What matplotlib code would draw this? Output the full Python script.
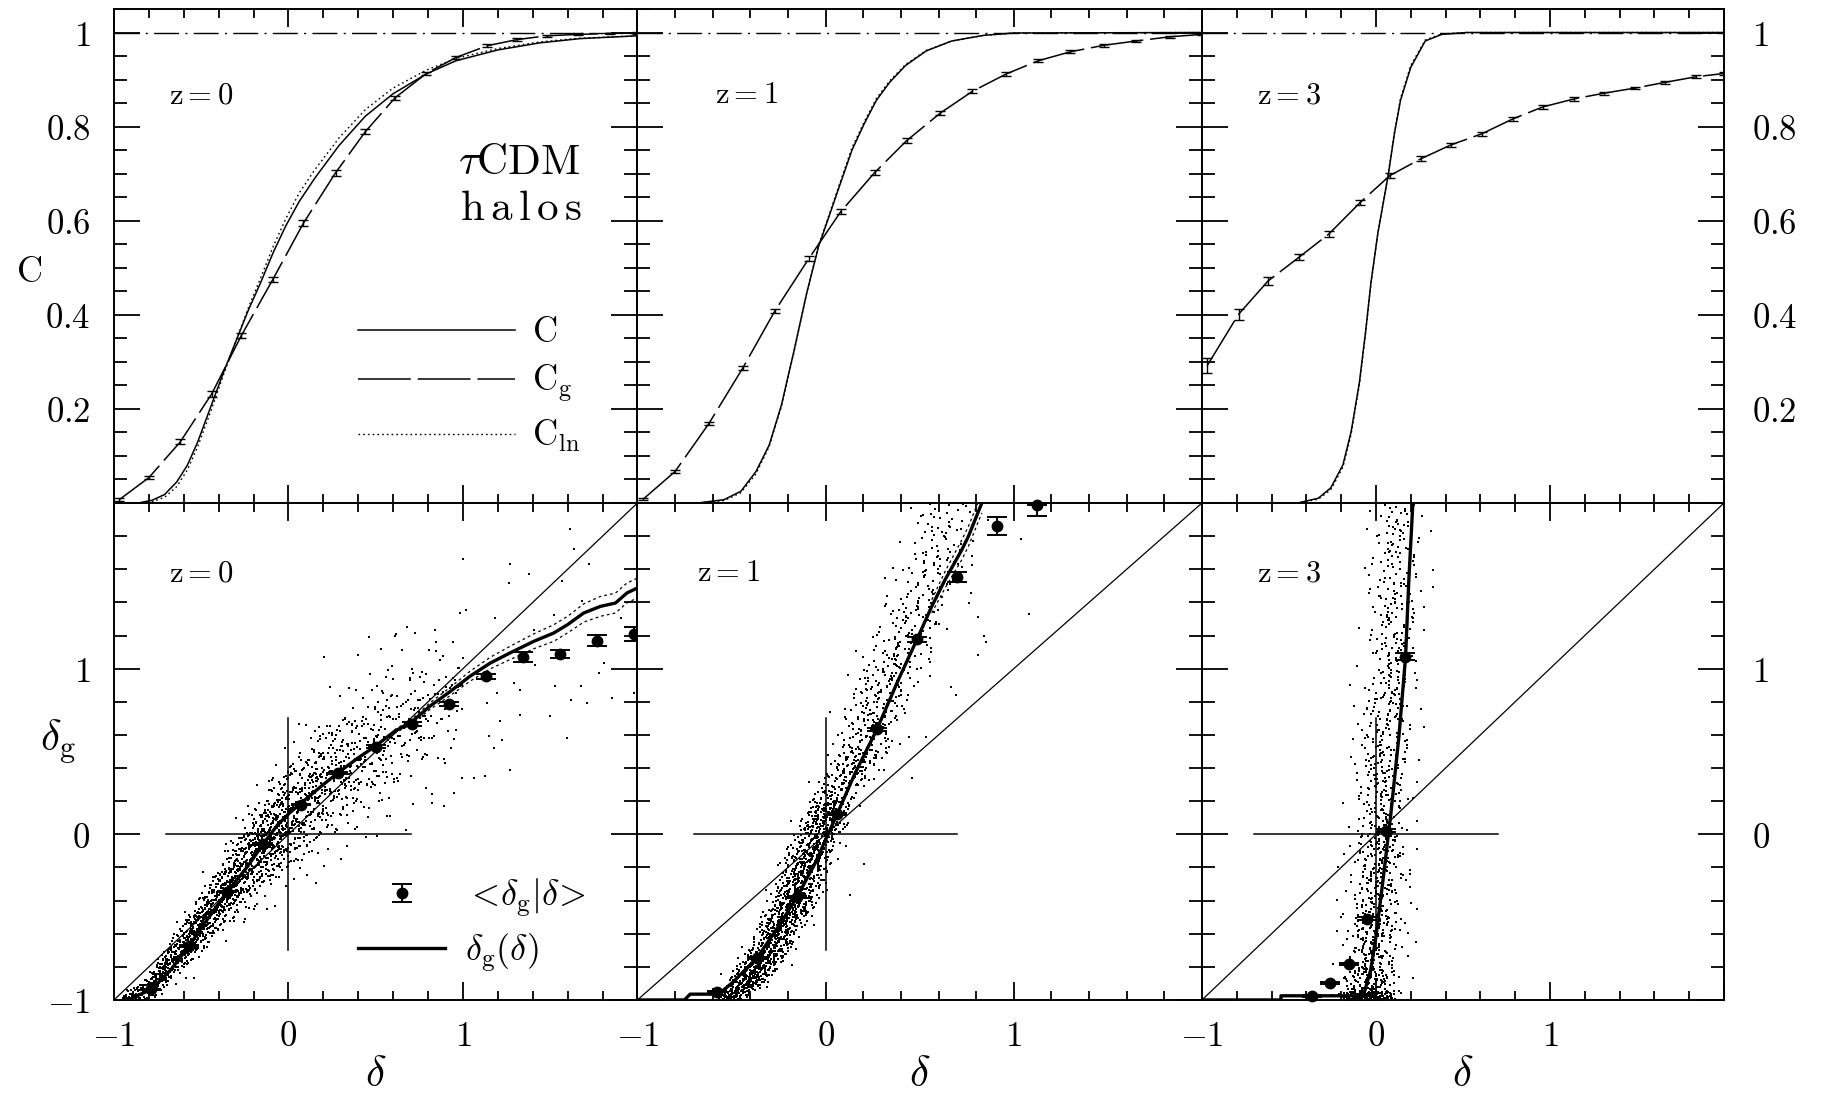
import numpy as np
import matplotlib
matplotlib.use("Agg")
import matplotlib.pyplot as plt
from matplotlib.ticker import MultipleLocator, FixedLocator, FixedFormatter
from matplotlib.legend_handler import HandlerErrorbar
from matplotlib.container import ErrorbarContainer

plt.rcParams['mathtext.fontset'] = 'cm'
plt.rcParams['font.family'] = 'DejaVu Serif'
plt.rcParams['lines.scale_dashes'] = False

# ---------------- cumulative distributions (top row) ----------------
# mass C(delta) and lognormal C_ln(delta): z = 0, 1, 3
C0_X = [-1.0, -0.86, -0.78, -0.71, -0.64, -0.58, -0.52, -0.45, -0.37, -0.30, -0.23, -0.16,
        -0.088, -0.017, 0.06, 0.15, 0.29, 0.44, 0.6, 0.79, 0.96, 1.2, 1.44, 1.67, 2.0]
C0_MASS = [0.0, 0.0, 0.006, 0.018, 0.045, 0.08, 0.13, 0.2, 0.28, 0.345, 0.41, 0.468,
           0.532, 0.588, 0.64, 0.69, 0.76, 0.822, 0.87, 0.912, 0.94, 0.963, 0.978, 0.987, 0.993]
C0_LN = [0.0, 0.0, 0.003, 0.012, 0.035, 0.07, 0.12, 0.19, 0.275, 0.345, 0.415, 0.478,
         0.545, 0.603, 0.658, 0.708, 0.776, 0.836, 0.882, 0.92, 0.945, 0.966, 0.98, 0.988, 0.993]

C1_X = [-1.0, -0.68, -0.54, -0.45, -0.37, -0.30, -0.235, -0.17, -0.10, -0.037, 0.018, 0.073,
        0.14, 0.205, 0.27, 0.34, 0.425, 0.535, 0.67, 0.84, 1.0, 2.0]
C1_MASS = [0.0, 0.0, 0.007, 0.025, 0.067, 0.123, 0.208, 0.32, 0.447, 0.546, 0.609, 0.673,
           0.75, 0.806, 0.856, 0.894, 0.93, 0.961, 0.982, 0.994, 0.999, 1.0]
C1_LN = [0.0, 0.0, 0.005, 0.022, 0.062, 0.12, 0.205, 0.318, 0.447, 0.548, 0.612, 0.677,
         0.755, 0.81, 0.86, 0.897, 0.932, 0.962, 0.982, 0.994, 0.999, 1.0]

C3_X = [-1.0, -0.45, -0.332, -0.26, -0.19, -0.143, -0.095, -0.06, -0.029, 0.011, 0.07, 0.106,
        0.141, 0.2, 0.283, 0.378, 0.52, 2.0]
C3_MASS = [0.0, 0.0, 0.01, 0.032, 0.081, 0.151, 0.257, 0.363, 0.468, 0.574, 0.696, 0.785,
           0.856, 0.926, 0.982, 0.996, 1.0, 1.0]
C3_LN = [0.0, 0.0, 0.008, 0.028, 0.076, 0.146, 0.252, 0.36, 0.466, 0.574, 0.698, 0.788,
         0.86, 0.93, 0.984, 0.997, 1.0, 1.0]

# halo distribution C_g with error bars
CG0_X = [-0.97, -0.80, -0.62, -0.44, -0.27, -0.09, 0.086, 0.27, 0.44, 0.61, 0.79, 0.96,
         1.14, 1.31, 1.48, 1.66, 1.84, 2.0]
CG0 = [0.007, 0.054, 0.130, 0.232, 0.356, 0.475, 0.595, 0.702, 0.789, 0.861, 0.913, 0.947,
       0.972, 0.985, 0.993, 0.996, 0.998, 0.999]
CG0_ERR = [0.003, 0.004, 0.005, 0.006, 0.006, 0.006, 0.006, 0.006, 0.005, 0.005, 0.004, 0.004,
           0.003, 0.003, 0.002, 0.002, 0.002, 0.002]

CG1_X = [-0.97, -0.80, -0.62, -0.44, -0.27, -0.09, 0.08, 0.26, 0.43, 0.61, 0.78, 0.96,
         1.13, 1.30, 1.48, 1.65, 1.83, 2.0]
CG1 = [0.008, 0.067, 0.169, 0.287, 0.408, 0.519, 0.619, 0.702, 0.770, 0.829, 0.875, 0.912,
       0.940, 0.959, 0.973, 0.982, 0.991, 0.996]
CG1_ERR = [0.002, 0.003, 0.004, 0.004, 0.005, 0.005, 0.005, 0.005, 0.005, 0.004, 0.004, 0.004,
           0.003, 0.003, 0.003, 0.002, 0.002, 0.002]

CG3_X = [-0.97, -0.79, -0.62, -0.44, -0.27, -0.09, 0.08, 0.26, 0.43, 0.61, 0.79, 0.96,
         1.14, 1.31, 1.49, 1.66, 1.84, 2.0]
CG3 = [0.292, 0.401, 0.472, 0.523, 0.572, 0.639, 0.696, 0.732, 0.761, 0.785, 0.817, 0.842,
       0.859, 0.871, 0.882, 0.894, 0.906, 0.913]
CG3_ERR = [0.016, 0.011, 0.009, 0.007, 0.007, 0.006, 0.005, 0.005, 0.004, 0.004, 0.004, 0.004,
           0.004, 0.003, 0.003, 0.003, 0.003, 0.003]

# ---------------- halo vs mass overdensity (bottom row) ----------------
# delta_g(delta) relation
DG0_X = [-0.92, -0.786, -0.675, -0.57, -0.465, -0.35, -0.235, -0.145, -0.063, 0.004, 0.071,
         0.185, 0.285, 0.396, 0.499, 0.606, 0.708, 0.81, 0.928, 1.04, 1.157, 1.27, 1.406,
         1.52, 1.6, 1.692, 1.788, 1.874, 1.94, 2.0]
DG0_Y = [-1.0, -0.936, -0.819, -0.674, -0.513, -0.346, -0.195, -0.058, 0.056, 0.127, 0.187,
         0.288, 0.372, 0.459, 0.533, 0.62, 0.68, 0.773, 0.863, 0.954, 1.034, 1.095, 1.165,
         1.215, 1.266, 1.336, 1.376, 1.396, 1.457, 1.487]
DG0_SPREAD = [0.0, 0.0, 0.0, 0.0, 0.0, 0.0, 0.0, 0.0, 0.0, 0.0, 0.0,
              0.0, 0.0, 0.0, 0.0, 0.01, 0.015, 0.02, 0.025, 0.03, 0.035, 0.04, 0.045,
              0.05, 0.05, 0.055, 0.06, 0.06, 0.06, 0.06]

DG1_X = [-1.0, -0.75, -0.72, -0.568, -0.497, -0.364, -0.25, -0.152, -0.055, 0.0, 0.06, 0.157,
         0.272, 0.387, 0.485, 0.564, 0.635, 0.724, 0.759, 0.83]
DG1_Y = [-1.0, -1.0, -0.965, -0.965, -0.897, -0.746, -0.555, -0.378, -0.173, -0.032, 0.119,
         0.37, 0.632, 0.934, 1.175, 1.376, 1.537, 1.718, 1.799, 2.0]
DG1_SPREAD = [0.0, 0.0, 0.0, 0.0, 0.0, 0.0, 0.0, 0.0, 0.0, 0.0, 0.0,
              0.0, 0.0, 0.0, 0.0, 0.04, 0.05, 0.06, 0.06, 0.06]

DG3_X = [-1.0, -0.546, -0.546, -0.09, -0.068, -0.03, 0.0, 0.036, 0.084, 0.132, 0.17, 0.189, 0.212]
DG3_Y = [-1.0, -1.0, -0.975, -0.975, -0.958, -0.817, -0.616, -0.314, 0.109, 0.592, 1.07, 1.537, 2.0]

# conditional mean <delta_g | delta>
M0_X = [-0.786, -0.57, -0.35, -0.145, 0.071, 0.285, 0.499, 0.708, 0.92, 1.13, 1.343, 1.557, 1.767, 1.983]
M0_Y = [-0.936, -0.674, -0.346, -0.058, 0.179, 0.372, 0.529, 0.666, 0.787, 0.954, 1.068, 1.09, 1.169, 1.209]
M0_ERR_LO = [0.005, 0.005, 0.005, 0.005, 0.005, 0.006, 0.008, 0.01, 0.012, 0.015, 0.03, 0.025, 0.035, 0.04]
M0_ERR_HI = M0_ERR_LO

M1_X = [-0.576, -0.364, -0.152, 0.06, 0.272, 0.485, 0.697, 0.909, 1.124]
M1_Y = [-0.95, -0.748, -0.377, 0.12, 0.634, 1.176, 1.556, 1.86, 1.99]
M1_ERR_LO = [0.005, 0.005, 0.005, 0.006, 0.01, 0.015, 0.03, 0.055, 0.07]
M1_ERR_HI = [0.005, 0.005, 0.005, 0.006, 0.01, 0.015, 0.03, 0.055, 0.0]

M3_X = [-0.368, -0.262, -0.155, -0.049, 0.058, 0.164]
M3_Y = [-0.977, -0.899, -0.782, -0.509, 0.021, 1.073]
M3_ERR_LO = [0.004, 0.005, 0.006, 0.008, 0.01, 0.02]
M3_ERR_HI = M3_ERR_LO

# scatter of individual cells: density bands (edges along one axis, centre and
# half-width across it, number of cells per band), core and outer halo
S0_EDGES = [-0.95, -0.8, -0.6, -0.4, -0.2, 0.0, 0.2, 0.4, 0.6, 0.8, 1.0]
S0_MID = [-1.0, -0.93, -0.67, -0.4, -0.12, 0.1, 0.3, 0.46, 0.6, 0.72, 0.9]
S0_CORE_HW = [0.03, 0.1, 0.16, 0.22, 0.28, 0.34, 0.38, 0.4, 0.4, 0.4, 0.42]
S0_CORE_N = [80, 230, 290, 320, 330, 200, 120, 80, 50, 30]
S0_HALO_HW = [0.05, 0.16, 0.26, 0.34, 0.46, 0.55, 0.62, 0.68, 0.72, 0.72, 0.72]
S0_HALO_N = [10, 30, 50, 70, 80, 70, 55, 40, 28, 18]
S0_SPARSE_X = [1.616, 1.635, 1.0, 1.272, 1.263, 1.377, 1.568, 1.721, 1.597, 1.5, 1.329, 1.272,
               1.176, 1.128, 1.061, 0.994, 0.89, 0.822, 0.946, 0.205, 0.679, 0.842, 0.459,
               0.612, 1.019, 1.185, 1.81, 1.857, 1.78, 1.675, 1.713, 1.617, 1.53, 1.415,
               1.291, 1.195, 1.138, 1.224, 1.147, 1.214, 1.329, 1.406, 1.52, 1.683, 1.903, 1.98]
S0_SPARSE_Y = [1.84, 1.72, 1.66, 1.63, 1.52, 1.57, 1.527, 1.63, 0.58, 0.712, 0.722, 0.39,
               0.521, 0.35, 0.34, 0.34, 0.169, 0.189, 0.25, 1.07, 1.25, 1.235, 1.19,
               1.195, 1.356, 1.306, 1.034, 0.823, 0.974, 0.893, 0.793, 0.813, 0.893, 1.024,
               0.913, 0.853, 0.793, 0.571, 0.592, 0.682, 0.873, 1.235, 1.326, 1.406, 1.306, 0.853]

S1_EDGES = [-1.0, -0.9, -0.7, -0.4, -0.1, 0.2, 0.5, 0.8, 1.1, 1.4, 1.7, 2.0]
S1_MID = [-0.52, -0.42, -0.30, -0.17, -0.07, 0.03, 0.2, 0.28, 0.39, 0.5, 0.6, 0.65]
S1_CORE_HW = [0.09, 0.12, 0.13, 0.14, 0.14, 0.13, 0.16, 0.18, 0.2, 0.2, 0.2, 0.2]
S1_CORE_N = [120, 280, 350, 320, 260, 140, 90, 70, 50, 40, 30]
S1_HALO_HW = [0.14, 0.17, 0.19, 0.2, 0.2, 0.2, 0.24, 0.27, 0.29, 0.29, 0.29, 0.29]
S1_HALO_N = [20, 40, 50, 45, 45, 40, 35, 35, 30, 25, 20]
S1_SPARSE_X = [0.81, 0.843, 0.854, 1.08, 0.667, 0.693, 0.535, 0.458, 0.205, 0.128, 1.04, 0.81]
S1_SPARSE_Y = [1.31, 1.195, 1.16, 1.33, 0.89, 0.843, 0.585, 0.34, -0.177, -0.369, 1.78, 1.08]

S3_EDGES = [-1.0, -0.95, -0.8, -0.5, 0.0, 0.5, 1.0, 1.5, 2.0]
S3_MID = [-0.05, -0.04, -0.03, 0.0, 0.03, 0.04, 0.09, 0.11, 0.13]
S3_CORE_HW = [0.16, 0.16, 0.15, 0.15, 0.15, 0.15, 0.15, 0.15, 0.15]
S3_CORE_N = [190, 90, 110, 150, 100, 80, 60, 50]
S3_HALO_HW = [0.22, 0.24, 0.27, 0.28, 0.27, 0.25, 0.25, 0.24, 0.24]
S3_HALO_N = [40, 35, 50, 70, 60, 50, 45, 40]

Z_LABELS = [r'$\mathrm{z=0}$', r'$\mathrm{z=1}$', r'$\mathrm{z=3}$']


def radical_inverse(k, base):
    k = np.asarray(k, dtype=np.int64).copy()
    r = np.zeros(k.shape)
    f = 1.0 / base
    while np.any(k > 0):
        r += f * (k % base)
        k //= base
        f /= base
    return r


def band_cloud(edges, mids, halfw, counts, along, start=1):
    """Spread cells through each density band in Halton order, peaked at the centre."""
    xs, ys = [], []
    k0 = start
    for i, n in enumerate(counts):
        k = np.arange(n) + k0
        k0 += n
        u = radical_inverse(k, 2)
        v = 0.5 * (radical_inverse(k, 3) + radical_inverse(k, 5))
        a = edges[i] + u * (edges[i + 1] - edges[i])
        m = mids[i] + u * (mids[i + 1] - mids[i])
        w = halfw[i] + u * (halfw[i + 1] - halfw[i])
        b = m + (2.0 * v - 1.0) * w
        if along == 'x':
            xs.append(a); ys.append(b)
        else:
            xs.append(b); ys.append(a)
    x = np.concatenate(xs); y = np.concatenate(ys)
    keep = (y >= -1.0) & (y <= 2.0) & (x >= -1.0) & (x <= 2.0)
    return x[keep], y[keep]


fig = plt.figure(figsize=(18.27, 10.98), dpi=100)
col_edges = [0.0624, 0.3489, 0.6579, 0.9436]
top_rows = (0.5419, 0.9918)
bot_rows = (0.0893, 0.5419)

ax_top = [fig.add_axes([col_edges[i], top_rows[0], col_edges[i + 1] - col_edges[i],
                        top_rows[1] - top_rows[0]]) for i in range(3)]
ax_bot = [fig.add_axes([col_edges[i], bot_rows[0], col_edges[i + 1] - col_edges[i],
                        bot_rows[1] - bot_rows[0]]) for i in range(3)]

TICK_FS = 25


def frame(ax, ylim, ymajor, yminor):
    ax.set_xlim(-1, 2)
    ax.set_ylim(*ylim)
    ax.xaxis.set_major_locator(FixedLocator([-1, 0, 1, 2]))
    ax.xaxis.set_minor_locator(MultipleLocator(0.2))
    ax.yaxis.set_major_locator(FixedLocator(ymajor))
    ax.yaxis.set_minor_locator(MultipleLocator(yminor))
    ax.tick_params(which='both', direction='in', top=True, right=True, width=1.3,
                   labelsize=TICK_FS, colors='k')
    ax.tick_params(axis='x', which='major', length=13, pad=14)
    ax.tick_params(axis='x', which='minor', length=6.5)
    ax.tick_params(axis='y', which='major', length=18.7, pad=17)
    ax.tick_params(axis='y', which='minor', length=9.4)
    for s in ax.spines.values():
        s.set_linewidth(1.4)


top_major = [0.0, 0.2, 0.4, 0.6, 0.8, 1.0]
top_labels = ['', r'$0.2$', r'$0.4$', r'$0.6$', r'$0.8$', r'$1$']
bot_major = [-1, 0, 1, 2]

for i, ax in enumerate(ax_top):
    frame(ax, (0.0, 1.05), top_major, 0.05)
    ax.xaxis.set_major_formatter(FixedFormatter(['', '', '', '']))
    if i == 0:
        ax.yaxis.set_major_formatter(FixedFormatter(top_labels))
    elif i == 2:
        ax.yaxis.set_major_formatter(FixedFormatter(top_labels))
        ax.tick_params(axis='y', labelleft=False, labelright=True, pad=20)
    else:
        ax.yaxis.set_major_formatter(FixedFormatter([''] * 6))

for i, ax in enumerate(ax_bot):
    frame(ax, (-1.0, 2.0), bot_major, 0.2)
    ax.xaxis.set_major_formatter(FixedFormatter([r'$-1$', r'$0$', r'$1$', '']))
    if i == 0:
        ax.yaxis.set_major_formatter(FixedFormatter([r'$-1$', r'$0$', r'$1$', '']))
    elif i == 2:
        ax.yaxis.set_major_formatter(FixedFormatter(['', r'$0$', r'$1$', '']))
        ax.tick_params(axis='y', labelleft=False, labelright=True, pad=20)
    else:
        ax.yaxis.set_major_formatter(FixedFormatter([''] * 4))

# ---- top row curves ----
top_sets = [(C0_X, C0_MASS, C0_LN, CG0_X, CG0, CG0_ERR),
            (C1_X, C1_MASS, C1_LN, CG1_X, CG1, CG1_ERR),
            (C3_X, C3_MASS, C3_LN, CG3_X, CG3, CG3_ERR)]
for i, (ax, (cx, cm, cl, gx, gy, ge)) in enumerate(zip(ax_top, top_sets)):
    ax.axhline(1.0, color='k', lw=1.0, dashes=(18, 4.5, 1.5, 4.5))
    l_mass, = ax.plot(cx, cm, color='k', lw=1.1)
    l_ln, = ax.plot(cx, cl, color='k', lw=1.0, dashes=(1.2, 2.2))
    l_g, = ax.plot(gx, gy, color='k', lw=1.1, dashes=(38, 5))
    ax.errorbar(gx, gy, yerr=ge, fmt='none', ecolor='k', elinewidth=1.0,
                capsize=3.5, capthick=1.0)
    ax.text(-0.685 if i != 1 else -0.59, 0.868, Z_LABELS[i], fontsize=22,
            ha='left', va='center')
    if i == 0:
        ax.legend([l_mass, l_g, l_ln],
                  [r'$\mathrm{C}$', r'$\mathrm{C_g}$', r'$\mathrm{C_{ln}}$'],
                  loc='center left', bbox_to_anchor=(0.467, 0.24),
                  frameon=False, fontsize=25, handlelength=4.5,
                  handletextpad=0.5, labelspacing=0.4,
                  borderpad=0.0, borderaxespad=0.0)

ax_top[0].text(1.674, 0.725, r'$\tau\mathrm{CDM}$', fontsize=31, ha='right', va='center')
ax_top[0].text(1.68, 0.627, r'$\mathrm{h\,a\,l\,o\,s}$', fontsize=31, ha='right', va='center')
ax_top[0].text(-0.163, 0.467, r'$\mathrm{C}$', fontsize=26, ha='center', va='center',
               transform=ax_top[0].transAxes)

# ---- bottom row ----
clouds = [
    (band_cloud(S0_EDGES, S0_MID, S0_CORE_HW, S0_CORE_N, 'x', 1),
     band_cloud(S0_EDGES, S0_MID, S0_HALO_HW, S0_HALO_N, 'x', 4001),
     (S0_SPARSE_X, S0_SPARSE_Y)),
    (band_cloud(S1_EDGES, S1_MID, S1_CORE_HW, S1_CORE_N, 'y', 1),
     band_cloud(S1_EDGES, S1_MID, S1_HALO_HW, S1_HALO_N, 'y', 4001),
     (S1_SPARSE_X, S1_SPARSE_Y)),
    (band_cloud(S3_EDGES, S3_MID, S3_CORE_HW, S3_CORE_N, 'y', 1),
     band_cloud(S3_EDGES, S3_MID, S3_HALO_HW, S3_HALO_N, 'y', 4001),
     ([], [])),
]
rel_sets = [(DG0_X, DG0_Y, DG0_SPREAD), (DG1_X, DG1_Y, DG1_SPREAD), (DG3_X, DG3_Y, None)]
mean_sets = [(M0_X, M0_Y, M0_ERR_LO, M0_ERR_HI), (M1_X, M1_Y, M1_ERR_LO, M1_ERR_HI),
             (M3_X, M3_Y, M3_ERR_LO, M3_ERR_HI)]

for i, ax in enumerate(ax_bot):
    ax.plot([-1, 2], [-1, 2], color='k', lw=0.9)
    ax.plot([-0.7, 0.7], [0, 0], color='k', lw=1.1)
    ax.plot([0, 0], [-0.7, 0.7], color='k', lw=1.1)
    for (sx, sy) in clouds[i]:
        if len(sx):
            ax.scatter(sx, sy, s=3.0, c='k', marker='s', linewidths=0)
    rx, ry, rs = rel_sets[i]
    line, = ax.plot(rx, ry, color='k', lw=2.4, solid_joinstyle='round')
    if rs is not None:
        ry_a = np.asarray(ry); rs_a = np.asarray(rs)
        m = rs_a > 0
        ax.plot(np.asarray(rx)[m], (ry_a + rs_a)[m], color='k', lw=0.9, dashes=(2, 2.2))
        ax.plot(np.asarray(rx)[m], (ry_a - rs_a)[m], color='k', lw=0.9, dashes=(2, 2.2))
    mx, my, elo, ehi = mean_sets[i]
    eb = ax.errorbar(mx, my, yerr=[elo, ehi], fmt='o', ms=7.5, color='k', ecolor='k',
                     elinewidth=1.4, capsize=7.5, capthick=1.4)
    for art in eb.lines[0:1] + tuple(eb.lines[1]) + tuple(eb.lines[2]):
        art.set_clip_on(False)
    ax.text(-0.685, 1.58, Z_LABELS[i], fontsize=22, ha='left', va='center')
    ax.text(0.5, -0.15, r'$\delta$', fontsize=31, ha='center', va='center',
            transform=ax.transAxes)
    if i == 0:
        ax.legend([eb, line], [r'$<\!\delta_\mathrm{g}|\delta\!>$', r'$\delta_\mathrm{g}(\delta)$'],
                  loc='center left', bbox_to_anchor=(0.467, 0.15), frameon=False,
                  fontsize=26, handlelength=2.4, handletextpad=0.55, labelspacing=0.35,
                  borderpad=0.0, borderaxespad=0.0,
                  handler_map={ErrorbarContainer: HandlerErrorbar(yerr_size=0.25)})

ax_bot[0].text(-0.107, 0.52, r'$\delta_\mathrm{g}$', fontsize=31, ha='center', va='center',
               transform=ax_bot[0].transAxes)

fig.savefig('out.png', dpi=100, facecolor='white')
